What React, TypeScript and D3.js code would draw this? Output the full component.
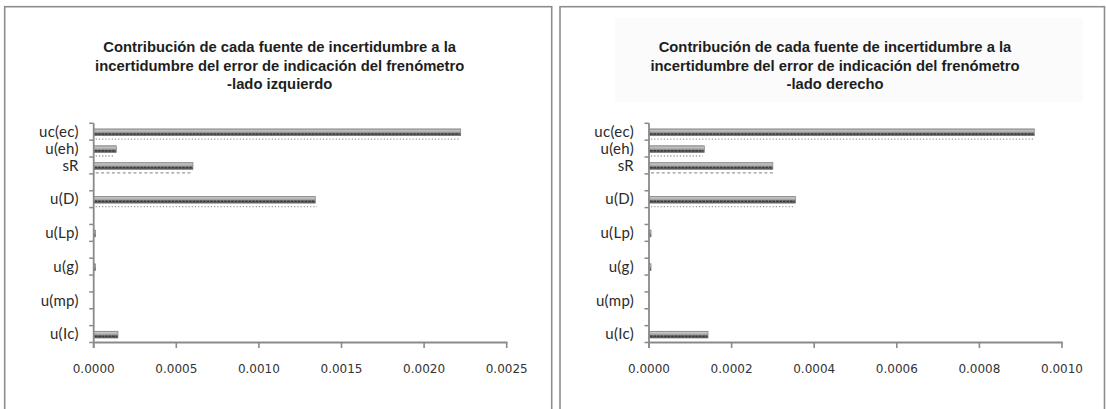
import React, { useEffect, useRef } from "react";
import * as d3 from "d3";

// Two horizontal bar charts side by side (Excel style, categories bottom -> top)

// blank rows keep the gaps between labels, like in the original sheet
const categories = ["u(Ic)", "", "u(mp)", "", "u(g)", "", "u(Lp)", "", "u(D)", "", "sR", "u(eh)", "uc(ec)"];

// left side (izquierdo)
const leftBars = [0.000147, 0, 0, 0, 0.000012, 0, 0.000012, 0, 0.001342, 0, 0.000601, 0.000137, 0.002222];
const leftDotted = [0, 0, 0, 0, 0, 0, 0, 0, 0.001352, 0, 0.000591, 0.000117, 0.002211];
const leftTicks = [0, 0.0005, 0.001, 0.0015, 0.002, 0.0025];

// right side (derecho)
const rightBars = [0.000143, 0, 0, 0, 0.000005, 0, 0.000005, 0, 0.000355, 0, 0.0003, 0.000134, 0.000933];
const rightDotted = [0, 0, 0, 0, 0, 0, 0, 0, 0.000352, 0, 0.000304, 0.00013, 0.000931];
const rightTicks = [0, 0.0002, 0.0004, 0.0006, 0.0008, 0.001];

const titleLines = [
  "Contribución de cada fuente de incertidumbre a la",
  "incertidumbre del error de indicación del frenómetro",
];
const leftSubtitle = "-lado izquierdo";
const rightSubtitle = "-lado derecho";

function drawPanel(svg, opts) {
  const { px, width, bars, dotted, ticks, subtitle, titleBox, gid } = opts;
  const g = svg.append("g").attr("transform", `translate(${px},0)`);

  // frame
  g.append("rect")
    .attr("x", 0).attr("y", 6.7)
    .attr("width", width).attr("height", 430)
    .attr("fill", "#fff")
    .attr("stroke", "#8e8e8e")
    .attr("stroke-width", 1.6);

  if (titleBox) {
    g.append("rect")
      .attr("x", 55).attr("y", 18)
      .attr("width", 468).attr("height", 84)
      .attr("fill", "#fbfbfb");
  }

  // title
  const lines = [...titleLines, subtitle];
  g.append("g").selectAll("text").data(lines).join("text")
    .attr("x", 275)
    .attr("y", (d, i) => 52 + i * 18.5)
    .attr("text-anchor", "middle")
    .attr("font-family", "'Liberation Sans', Arial, sans-serif")
    .attr("font-weight", "bold")
    .attr("font-size", 14.8)
    .attr("fill", "#1e1e1e")
    .text(d => d);

  const left = 89, right = 502, top = 123.3, bottom = 342.5;

  const x = d3.scaleLinear().domain([ticks[0], ticks[ticks.length - 1]]).range([left, right]);
  const idx = categories.map((c, i) => i);
  const y = d3.scaleBand().domain(idx.slice().reverse()).range([top, bottom]).padding(0);
  const bw = y.bandwidth();

  // bar gradient
  const grad = svg.append("defs").append("linearGradient")
    .attr("id", gid).attr("x1", 0).attr("y1", 0).attr("x2", 0).attr("y2", 1);
  [["0", "#8a8a8a"], ["0.18", "#c6c6c6"], ["0.45", "#a9a9a9"], ["0.7", "#727272"], ["1", "#4e4e4e"]]
    .forEach(([o, c]) => grad.append("stop").attr("offset", o).attr("stop-color", c));

  // dotted series
  g.append("g").selectAll("line").data(idx.filter(i => dotted[i] > 0)).join("line")
    .attr("x1", x(0) + 2)
    .attr("x2", i => x(dotted[i]))
    .attr("y1", i => y(i) + bw - 1)
    .attr("y2", i => y(i) + bw - 1)
    .attr("stroke", "#999")
    .attr("stroke-width", 1.3)
    .attr("stroke-dasharray", i => categories[i] === "sR" ? "3 2.4" : "1.2 2");

  // main bars
  const barG = g.append("g");
  const shown = idx.filter(i => bars[i] > 0);
  barG.selectAll("rect").data(shown).join("rect")
    .attr("x", x(0))
    .attr("y", i => y(i) + 5.6)
    .attr("width", i => Math.max(1.5, x(bars[i]) - x(0)))
    .attr("height", 6.8)
    .attr("fill", `url(#${gid})`)
    .attr("stroke", "#7a7a7a")
    .attr("stroke-width", 0.6);
  barG.selectAll("line").data(shown.filter(i => x(bars[i]) - x(0) > 6)).join("line")
    .attr("x1", x(0) + 1)
    .attr("x2", i => x(bars[i]) - 1)
    .attr("y1", i => y(i) + 10.6)
    .attr("y2", i => y(i) + 10.6)
    .attr("stroke", "#3c3c3c")
    .attr("stroke-width", 1.5)
    .attr("stroke-dasharray", "2.5 1");

  // axes
  const axisColor = "#8a8a8a";
  g.append("line")
    .attr("x1", left).attr("x2", left).attr("y1", top).attr("y2", bottom + 5.5)
    .attr("stroke", axisColor).attr("stroke-width", 1.8);
  g.append("line")
    .attr("x1", left).attr("x2", right + 0.8).attr("y1", bottom).attr("y2", bottom)
    .attr("stroke", axisColor).attr("stroke-width", 1.8);

  const yTicks = d3.range(categories.length + 1).map(k => top + k * bw);
  g.append("g").selectAll("line").data(yTicks).join("line")
    .attr("x1", left - 4.5).attr("x2", left)
    .attr("y1", d => d).attr("y2", d => d)
    .attr("stroke", axisColor).attr("stroke-width", 1.5);

  g.append("g").selectAll("line").data(ticks).join("line")
    .attr("x1", d => x(d)).attr("x2", d => x(d))
    .attr("y1", bottom).attr("y2", bottom + 5.5)
    .attr("stroke", axisColor).attr("stroke-width", 1.6);

  g.append("g").selectAll("text").data(ticks).join("text")
    .attr("x", d => x(d))
    .attr("y", 372.5)
    .attr("text-anchor", "middle")
    .attr("font-family", "'DejaVu Sans', Verdana, sans-serif")
    .attr("font-size", 12)
    .attr("fill", "#333")
    .text(d => d3.format(".4f")(d));

  // category labels
  g.append("g").selectAll("text").data(idx.filter(i => categories[i] !== "")).join("text")
    .attr("x", left - 15)
    .attr("y", i => y(i) + bw / 2 + 5.2)
    .attr("text-anchor", "end")
    .attr("font-family", "Lato, 'Open Sans', sans-serif")
    .attr("font-size", 15)
    .attr("letter-spacing", 0.3)
    .attr("fill", "#2a2a2a")
    .text(i => categories[i]);
}

export default function App() {
  const ref = useRef(null);

  useEffect(() => {
    const svg = d3.select(ref.current);
    svg.selectAll("*").remove();
    svg.append("rect").attr("width", 1106).attr("height", 409).attr("fill", "#fff");

    drawPanel(svg, {
      px: 4.7, width: 547, bars: leftBars, dotted: leftDotted,
      ticks: leftTicks, subtitle: leftSubtitle, titleBox: false, gid: "barGradL",
    });
    drawPanel(svg, {
      px: 560, width: 544.5, bars: rightBars, dotted: rightDotted,
      ticks: rightTicks, subtitle: rightSubtitle, titleBox: true, gid: "barGradR",
    });
  }, []);

  return (
    <svg
      ref={ref}
      width={1106}
      height={409}
      style={{ position: "absolute", left: 0, top: 0, display: "block" }}
    />
  );
}
